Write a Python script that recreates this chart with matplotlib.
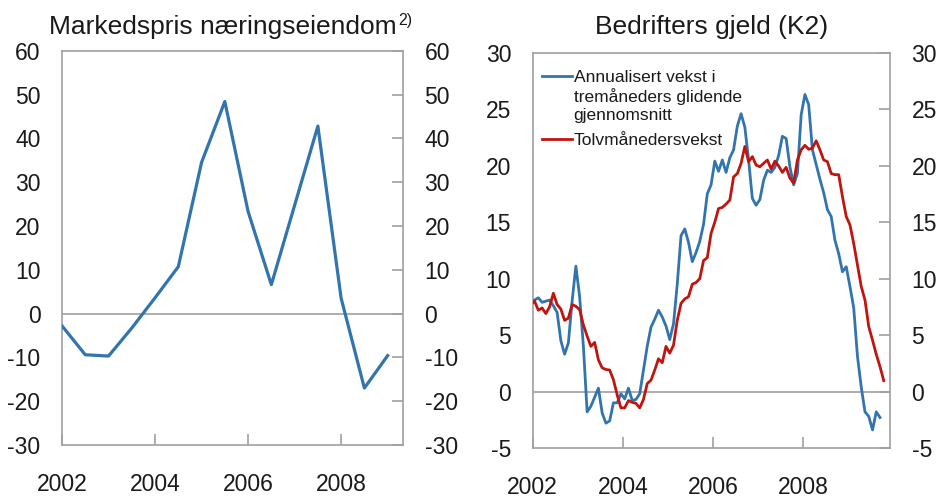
import matplotlib
matplotlib.use("Agg")
from matplotlib import pyplot as plt
import numpy as np

plt.rcParams['font.family'] = ['Liberation Sans', 'DejaVu Sans']
plt.rcParams['axes.unicode_minus'] = False

# left panel: half-yearly growth in commercial property prices
prop_years = [2002.0, 2002.5, 2003.0, 2003.5, 2004.0, 2004.5, 2005.0, 2005.5,
              2006.0, 2006.5, 2007.0, 2007.5, 2008.0, 2008.5, 2009.0]
prop_growth = [-2.8, -9.4, -9.7, -3.3, 3.6, 10.7, 34.5, 48.4,
               23.3, 6.6, 24.7, 42.8, 3.5, -17.0, -9.6]

# right panel: monthly credit growth, Dec 2001 onward (plotted mid-month)
k2_start = 2001 + 11.5 / 12
k2_annualised = [7.7, 8.1, 8.3, 7.9, 8.0, 8.1, 7.6, 7.0, 4.5, 3.3,
                 4.3, 8.0, 11.1, 8.4, 4.0, -1.8, -1.3, -0.5, 0.3, -1.9,
                 -2.8, -2.6, -1.0, -1.0, -0.2, -0.65, 0.3, -0.8, -0.7, -0.2,
                 1.9, 4.0, 5.7, 6.4, 7.2, 6.6, 5.8, 4.6, 6.0, 9.5,
                 13.8, 14.4, 13.2, 11.5, 12.3, 13.3, 14.8, 17.5, 18.3, 20.4,
                 19.5, 20.5, 19.4, 20.7, 21.4, 23.5, 24.6, 23.4, 20.5, 17.1,
                 16.5, 17.0, 18.7, 19.6, 19.4, 19.85, 20.9, 22.6, 22.4, 19.9,
                 18.3, 19.3, 24.5, 26.3, 25.4, 21.4, 20.1, 18.8, 17.6, 16.1,
                 15.5, 13.4, 12.2, 10.6, 11.05, 9.3, 7.4, 3.1, 0.4, -1.8,
                 -2.2, -3.4, -1.8, -2.3]
k2_twelve_month = [7.7, 8.0, 7.2, 7.4, 6.9, 7.5, 8.7, 7.7, 7.3, 6.3,
                   6.5, 7.7, 7.55, 7.25, 5.9, 4.9, 4.0, 4.35, 2.8, 2.1,
                   1.95, 1.9, 1.05, -0.3, -1.45, -1.45, -0.8, -0.95, -1.05, -1.45,
                   -0.7, 0.7, 1.0, 1.9, 2.9, 2.55, 4.0, 3.4, 4.1, 6.3,
                   7.8, 8.2, 8.4, 9.5, 9.65, 10.0, 11.6, 11.85, 14.0, 15.0,
                   16.2, 16.3, 16.6, 16.95, 19.0, 19.3, 20.2, 21.7, 20.35, 20.8,
                   20.05, 19.9, 20.2, 20.5, 19.7, 20.4, 19.97, 19.4, 19.85, 18.9,
                   18.45, 20.5, 21.4, 21.8, 21.45, 21.55, 22.2, 21.4, 20.5, 20.35,
                   19.3, 19.2, 19.2, 17.25, 15.5, 14.75, 13.1, 11.2, 9.3, 8.1,
                   5.75, 4.55, 3.3, 2.2, 0.96]

year_ticks = [2002, 2004, 2006, 2008]
left_yticks = [-30, -20, -10, 0, 10, 20, 30, 40, 50, 60]
right_yticks = [-5, 0, 5, 10, 15, 20, 25, 30]

blue = '#3274ad'
red = '#c0150f'
grey = '#a0a0a0'
txt = '#1a1a1a'

W, H = 941, 497
fig = plt.figure(figsize=(W / 100, H / 100), dpi=100)


def style_axis(ax, yticks):
    for s in ax.spines.values():
        s.set_color(grey)
        s.set_linewidth(1.2)
    ax.axhline(0, color=grey, lw=1.2, zorder=1)
    ax.set_xticks(year_ticks)
    ax.set_xticklabels([str(y) for y in year_ticks])
    ax.set_yticks(yticks)
    ax.set_ylim(yticks[0], yticks[-1])
    ax.tick_params(axis='x', direction='in', length=8, width=1.2, color=grey,
                   pad=20, labelsize=16.5, labelcolor=txt)
    ax.tick_params(axis='y', direction='in', length=8, width=1.2, color=grey,
                   left=False, right=True, labelleft=True, labelright=True,
                   pad=15.5, labelsize=16.5, labelcolor=txt)


ax1 = fig.add_axes([62 / W, 1 - 445 / H, 341 / W, 394.3 / H])
ax1.plot(prop_years, prop_growth, color=blue, lw=2.3, zorder=3)
ax1.set_xlim(2002, 2009.33)
style_axis(ax1, left_yticks)

ax2 = fig.add_axes([532.7 / W, 1 - 448 / H, 357.3 / W, 395.3 / H])
x_blue = k2_start + np.arange(len(k2_annualised)) / 12
x_red = k2_start + np.arange(len(k2_twelve_month)) / 12
ax2.plot(x_blue, k2_annualised, color=blue, lw=2.0, zorder=3,
         label='Annualisert vekst i\ntremåneders glidende\ngjennomsnitt')
ax2.plot(x_red, k2_twelve_month, color=red, lw=2.0, zorder=3,
         label='Tolvmånedersvekst')
ax2.set_xlim(2002, 2009.93)
style_axis(ax2, right_yticks)

leg = ax2.legend(loc='upper left', bbox_to_anchor=(0.015, 0.965), frameon=False,
                 fontsize=12.5, handlelength=1.75, handletextpad=0.1,
                 labelspacing=0.55, borderaxespad=0.0, borderpad=0.2)
for t in leg.get_texts():
    t.set_color(txt)
    t.set_linespacing(1.25)
for col in leg._legend_handle_box.get_children():
    for row in col.get_children():
        row.align = 'top'

fig.text(397 / W, 1 - 34 / H, 'Markedspris næringseiendom', ha='right',
         va='baseline', fontsize=19, color=txt)
fig.text(398 / W, 1 - 25 / H, '2)', ha='left', va='baseline', fontsize=11.5,
         color=txt)
fig.text(711.5 / W, 1 - 34 / H, 'Bedrifters gjeld (K2)', ha='center',
         va='baseline', fontsize=19, color=txt)

fig.savefig('out.png', dpi=100)
